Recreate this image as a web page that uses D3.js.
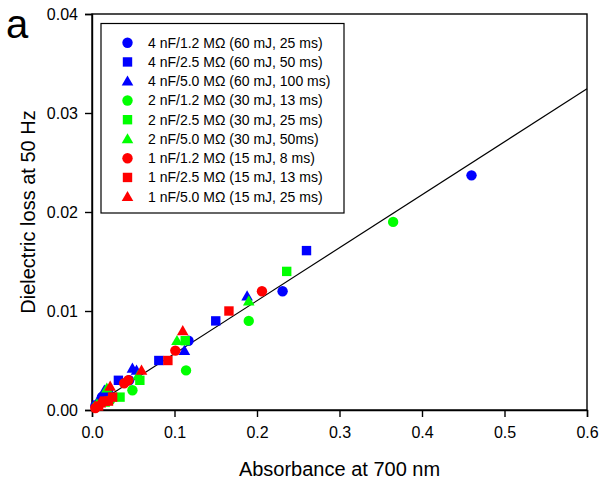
<!DOCTYPE html>
<html>
<head>
<meta charset="utf-8">
<script src="https://cdn.jsdelivr.net/npm/d3@7"></script>
<style>
  html, body { margin: 0; padding: 0; background: #fff; }
  svg { display: block; }
  text { font-family: "Liberation Sans", Arial, sans-serif; fill: #000; }
</style>
</head>
<body>
<svg id="chart" width="602" height="483"></svg>
<script>
// ---- data ----
const seriesNames = [
  "4 nF/1.2 M\u03A9 (60 mJ, 25 ms)",
  "4 nF/2.5 M\u03A9 (60 mJ, 50 ms)",
  "4 nF/5.0 M\u03A9 (60 mJ, 100 ms)",
  "2 nF/1.2 M\u03A9 (30 mJ, 13 ms)",
  "2 nF/2.5 M\u03A9 (30 mJ, 25 ms)",
  "2 nF/5.0 M\u03A9 (30 mJ, 50ms)",
  "1 nF/1.2 M\u03A9 (15 mJ, 8 ms)",
  "1 nF/2.5 M\u03A9 (15 mJ, 13 ms)",
  "1 nF/5.0 M\u03A9 (15 mJ, 25 ms)"
];
const seriesColors = ["#0000ff","#0000ff","#0000ff","#00ff00","#00ff00","#00ff00","#ff0000","#ff0000","#ff0000"];
const seriesShapes = ["circle","square","triangle","circle","square","triangle","circle","square","triangle"];

const blueCircleX  = [0.460, 0.231, 0.117, 0.045, 0.012, 0.004];
const blueCircleY  = [0.0237, 0.0120, 0.0070, 0.0030, 0.0013, 0.0004];
const blueSquareX  = [0.260, 0.150, 0.081, 0.032, 0.020, 0.006];
const blueSquareY  = [0.0161, 0.0090, 0.0050, 0.0030, 0.0018, 0.0005];
const blueTriX     = [0.188, 0.112, 0.049, 0.054, 0.015, 0.009];
const blueTriY     = [0.0115, 0.0060, 0.0042, 0.0040, 0.0020, 0.0012];
const greenCircleX = [0.365, 0.190, 0.114, 0.049, 0.022, 0.006];
const greenCircleY = [0.0190, 0.0090, 0.0040, 0.0020, 0.0010, 0.0004];
const greenSquareX = [0.236, 0.113, 0.058, 0.034, 0.016];
const greenSquareY = [0.0140, 0.0070, 0.0030, 0.0013, 0.0008];
const greenTriX    = [0.190, 0.103, 0.056, 0.018, 0.006];
const greenTriY    = [0.0110, 0.0070, 0.0035, 0.0022, 0.0006];
const redCircleX   = [0.206, 0.101, 0.044, 0.039, 0.013, 0.004];
const redCircleY   = [0.0120, 0.0060, 0.0030, 0.0027, 0.0008, 0.0002];
const redSquareX   = [0.166, 0.092, 0.025, 0.020, 0.015, 0.008];
const redSquareY   = [0.0100, 0.0050, 0.0013, 0.0009, 0.0009, 0.0004];
const redTriX      = [0.110, 0.060, 0.022, 0.010];
const redTriY      = [0.0080, 0.0040, 0.0024, 0.0007];

const seriesX = [blueCircleX, blueSquareX, blueTriX, greenCircleX, greenSquareX, greenTriX, redCircleX, redSquareX, redTriX];
const seriesY = [blueCircleY, blueSquareY, blueTriY, greenCircleY, greenSquareY, greenTriY, redCircleY, redSquareY, redTriY];

// regression line (intercept, slope) and its x extent
const fitIntercept = 0.00034;
const fitSlope = 0.0535;
const fitRange = [0.003, 0.6];

const xTicks = [0, 0.1, 0.2, 0.3, 0.4, 0.5, 0.6];
const yTicks = [0, 0.01, 0.02, 0.03, 0.04];
const xTitle = "Absorbance at 700 nm";
const yTitle = "Dielectric loss at 50 Hz";
const panelLabel = "a";

// ---- layout ----
const svg = d3.select("#chart");
const L = 92, R = 587, T = 14, B = 410;
const x = d3.scaleLinear().domain([0, 0.6]).range([L, R]);
const y = d3.scaleLinear().domain([0, 0.04]).range([B, T]);

svg.append("rect").attr("width", 602).attr("height", 483).attr("fill", "#fff");

function symbolPath(shape) {
  if (shape === "circle") return d3.symbol(d3.symbolCircle, Math.PI * 5.2 * 5.2)();
  if (shape === "square") return d3.symbol(d3.symbolSquare, 9.4 * 9.4)();
  // triangle pointing up, width ~11, height ~10
  return "M0,-5.8L5.8,4.4L-5.8,4.4Z";
}

// frame
svg.append("rect")
  .attr("x", L).attr("y", T).attr("width", R - L).attr("height", B - T)
  .attr("fill", "none").attr("stroke", "#000").attr("stroke-width", 1.4);

// axes
const xAxis = d3.axisBottom(x).tickValues(xTicks).tickFormat(d3.format(".1f"))
  .tickSize(7).tickPadding(10);
const yAxis = d3.axisLeft(y).tickValues(yTicks).tickFormat(d3.format(".2f"))
  .tickSize(7).tickPadding(7);

const gx = svg.append("g").attr("transform", `translate(0,${B})`).call(xAxis);
const gy = svg.append("g").attr("transform", `translate(${L},0)`).call(yAxis);
[gx, gy].forEach(g => {
  g.select(".domain").attr("stroke", "#000").attr("stroke-width", 1.4);
  g.selectAll(".tick line").attr("stroke", "#000").attr("stroke-width", 1.4);
  g.selectAll(".tick text").attr("font-size", 16).attr("fill", "#000")
    .attr("font-family", "'Liberation Sans', Arial, sans-serif");
});

// regression line
svg.append("line")
  .attr("x1", x(fitRange[0])).attr("y1", y(fitIntercept + fitSlope * fitRange[0]))
  .attr("x2", x(fitRange[1])).attr("y2", y(fitIntercept + fitSlope * fitRange[1]))
  .attr("stroke", "#000").attr("stroke-width", 1.2);

// points
const plot = svg.append("g");
seriesX.forEach((xs, i) => {
  const pts = xs.map((v, j) => ({ x: v, y: seriesY[i][j] }));
  plot.append("g").selectAll("path").data(pts).join("path")
    .attr("d", symbolPath(seriesShapes[i]))
    .attr("transform", d => `translate(${x(d.x)},${y(d.y)})`)
    .attr("fill", seriesColors[i]);
});

// legend
const lg = svg.append("g");
lg.append("rect").attr("x", 101).attr("y", 23.5).attr("width", 243).attr("height", 189.5)
  .attr("fill", "#fff").attr("stroke", "#000").attr("stroke-width", 1.2);
seriesNames.forEach((name, i) => {
  const cy = 42.7 + i * 19.25;
  lg.append("path").attr("d", symbolPath(seriesShapes[i]))
    .attr("transform", `translate(127.5,${cy})`).attr("fill", seriesColors[i]);
  lg.append("text").attr("x", 148).attr("y", cy + 5).attr("font-size", 14).text(name);
});

// titles
svg.append("text").attr("x", (L + R) / 2).attr("y", 476).attr("text-anchor", "middle")
  .attr("font-size", 20).text(xTitle);
svg.append("text").attr("transform", `translate(35,${(T + B) / 2}) rotate(-90)`)
  .attr("text-anchor", "middle").attr("font-size", 20).text(yTitle);
svg.append("text").attr("x", 6).attr("y", 38)
  .attr("font-family", "'Liberation Serif', 'Times New Roman', serif")
  .attr("font-size", 40).text(panelLabel);
</script>
</body>
</html>
